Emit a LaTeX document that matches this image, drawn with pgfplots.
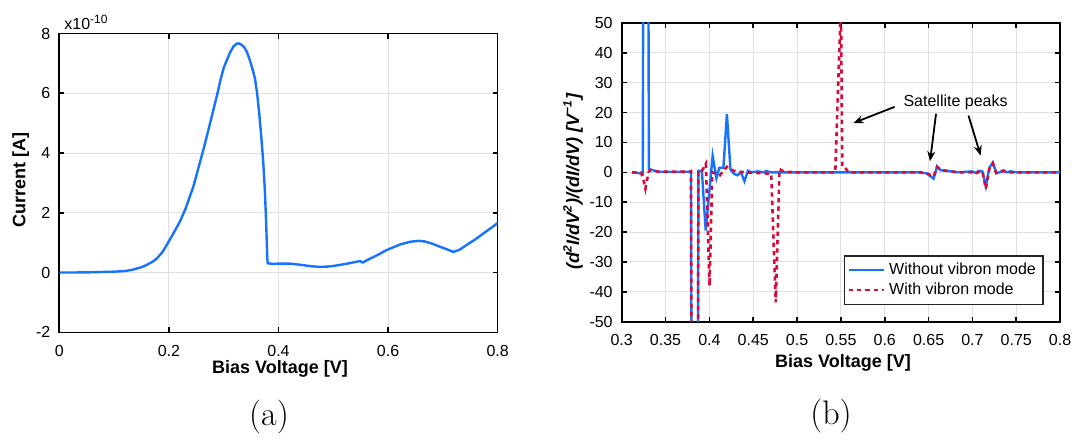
\documentclass[border=0pt]{standalone}
\usepackage{fontspec}
\setsansfont{Liberation Sans}
\usepackage{pgfplots}
\pgfplotsset{compat=1.18}
\usetikzlibrary{arrows.meta}

\definecolor{cblue}{RGB}{22,115,255}
\definecolor{cred}{RGB}{215,10,60}

\pgfplotsset{
  matlab/.style={
    scale only axis,
    width=219.2pt, height=149.4pt,
    axis line style={line width=0.8pt, black},
    every tick/.style={line width=0.8pt, black},
    tick align=inside, tick pos=both,
    major tick length=2.5pt,
    grid=major,
    grid style={black!12, line width=0.5pt},
    tick label style={font=\sffamily\fontsize{8}{9.6}\selectfont},
    /pgf/number format/assume math mode=true,
    x tick label style={yshift=-3pt},
    y tick label style={xshift=-1pt},
  },
  legend image code/.code={
    \draw[#1] (0cm,0cm) -- (0.62cm,0cm);
  },
}

\begin{document}
\begin{tikzpicture}
\path[use as bounding box] (0,0) rectangle (543pt,220.5pt);

% (a) current
\begin{axis}[matlab,
  at={(29.65pt,54.35pt)}, anchor=south west,
  xmin=0, xmax=0.8, ymin=-2, ymax=8,
  xtick={0,0.2,0.4,0.6,0.8},
  ytick={-2,0,2,4,6,8},
]
\addplot[cblue, line width=1.2pt, line join=round] coordinates {
(0,0) (0.05,0.005) (0.1,0.03) (0.12,0.05) (0.135,0.1) (0.15,0.18)
(0.159,0.25) (0.17,0.36) (0.178,0.47) (0.188,0.68) (0.196,0.92)
(0.2,1.05) (0.21,1.37) (0.22,1.70) (0.23,2.12) (0.2445,2.87)
(0.2628,4.10) (0.27,4.62) (0.281,5.43) (0.29,6.1) (0.2932,6.38)
(0.30,6.85) (0.3055,7.1) (0.312,7.38) (0.318,7.57) (0.323,7.65)
(0.327,7.67) (0.332,7.63) (0.337,7.55) (0.342,7.4) (0.347,7.15)
(0.352,6.85) (0.357,6.5) (0.361,6.0) (0.365,5.3) (0.369,4.45)
(0.372,3.75) (0.375,2.8) (0.377,1.9) (0.3785,1.1) (0.3795,0.5)
(0.3803,0.31)
(0.39,0.29) (0.40,0.30) (0.42,0.30) (0.44,0.26) (0.46,0.21)
(0.476,0.19) (0.49,0.2) (0.5,0.22) (0.52,0.28) (0.5487,0.385)
(0.5536,0.33) (0.561,0.41) (0.58,0.58) (0.597,0.75) (0.622,0.94)
(0.64,1.03) (0.656,1.06) (0.667,1.04) (0.68,0.97) (0.695,0.86)
(0.71,0.76) (0.719,0.69) (0.73,0.76) (0.743,0.92) (0.76,1.12)
(0.774,1.31) (0.79,1.52) (0.8,1.66)
};
\end{axis}

% (b) second derivative ratio
\begin{axis}[matlab,
  at={(310.85pt,59.65pt)}, anchor=south west,
  xmin=0.3, xmax=0.8, ymin=-50, ymax=50,
  xtick={0.3,0.35,0.4,0.45,0.5,0.55,0.6,0.65,0.7,0.75,0.8},
  ytick={-50,-40,-30,-20,-10,0,10,20,30,40,50},
  legend style={at={(1,0)}, anchor=south east, xshift=-8.3pt, yshift=8.5pt,
    draw=black!85, line width=0.6pt, inner sep=1.5pt, row sep=-1.5pt,
    font=\sffamily\fontsize{8}{9.6}\selectfont, cells={anchor=west}},
]
\addplot[cblue, line width=1.2pt] coordinates {
(0.312,0) (0.3219,-0.4) (0.3240,-0.6) (0.3250,120) (0.3300,120) (0.3310,1.0)
(0.333,0.9) (0.3417,0.2) (0.36,0.1) (0.3783,0.2) (0.3790,0.3) (0.3800,-120)
(0.3865,-120) (0.3875,0.5) (0.3914,0.5) (0.3958,-19.5) (0.4037,5.5)
(0.408,-2) (0.4113,1.5) (0.416,1.5) (0.420,19.5) (0.424,1.0) (0.428,-0.5)
(0.432,-1.0) (0.436,0) (0.440,-3) (0.444,0.5) (0.448,0) (0.456,0.3)
(0.461,0) (0.465,0.4) (0.47,0) (0.5,0) (0.55,0) (0.6,0) (0.64,0)
(0.6478,-0.4) (0.6557,-2.1) (0.6597,2.0) (0.6637,0.7) (0.6756,0.3)
(0.6836,0) (0.6995,0.3) (0.7034,-0.2) (0.7074,0.5) (0.7114,0.3)
(0.7153,-4.7) (0.7193,1.5) (0.7233,3.3) (0.7272,-0.2) (0.7312,0)
(0.7352,0.7) (0.7392,0) (0.7431,0.3) (0.75,0) (0.8,0)
};
\addlegendentry{Without vibron mode}
\addplot[cred, line width=1.3pt, dash pattern=on 2.2pt off 2pt] coordinates {
(0.312,0) (0.3219,0) (0.3245,-2) (0.327,-5.5) (0.3306,0) (0.333,0.8)
(0.3417,0.2) (0.3783,0.2) (0.3790,0.3) (0.3800,-120) (0.3865,-120)
(0.3875,0.5) (0.3914,0.4) (0.396,2.9) (0.4002,-38) (0.4033,0)
(0.408,-0.5) (0.412,-1) (0.416,0.5) (0.420,1.8) (0.424,1) (0.43,0.3)
(0.44,0) (0.46,-0.3) (0.4705,-0.5) (0.4757,-43.5) (0.4800,1.1)
(0.485,0.2) (0.5,0) (0.5436,0) (0.5500,57) (0.5516,2) (0.5544,1.8)
(0.5584,0) (0.64,0) (0.6478,-0.3) (0.6557,-1.5) (0.6597,1.8)
(0.6637,0.8) (0.6756,0.3) (0.6836,0) (0.6995,0) (0.7034,-0.6)
(0.7074,0.2) (0.7114,0.4) (0.7153,-5.5) (0.7193,1.2) (0.7233,3.0)
(0.7272,-0.3) (0.7312,0) (0.7352,0.4) (0.7431,0) (0.8,0)
};
\addlegendentry{With vibron mode}
\node[font=\sffamily\fontsize{8}{9.6}\selectfont] at (axis cs:0.6808,23.4) {Satellite peaks};
\draw[-{Stealth[length=5pt,width=4pt]}, line width=0.9pt]
  (axis cs:0.6112,21.9) -- (axis cs:0.5643,16.5);
\draw[-{Stealth[length=5pt,width=4pt]}, line width=0.9pt]
  (axis cs:0.6585,19.6) -- (axis cs:0.6517,3.7);
\draw[-{Stealth[length=5pt,width=4pt]}, line width=0.9pt]
  (axis cs:0.6955,19.0) -- (axis cs:0.7094,5.6);
\end{axis}

% labels
\node[rotate=90, font=\sffamily\bfseries\fontsize{9}{10.8}\selectfont] at (10.35pt,130.5pt) {Current [A]};
\node[font=\sffamily\bfseries\fontsize{9}{10.8}\selectfont] at (140pt,36pt) {Bias Voltage [V]};
\node[anchor=base west, inner sep=0pt, font=\sffamily\fontsize{8}{9.6}\selectfont] at (32pt,205.9pt) {x10\textsuperscript{-10}};
\node[rotate=90, font=\sffamily\bfseries\itshape\fontsize{9}{10.8}\selectfont] at (286.5pt,129.65pt)
  {(d\textsuperscript{2}I/dV\textsuperscript{2})/(dI/dV) [V\textsuperscript{−1}]};
\node[font=\sffamily\bfseries\fontsize{9}{10.8}\selectfont] at (421.5pt,39.15pt) {Bias Voltage [V]};
\node[font=\fontsize{17}{20}\selectfont] at (134.5pt,12pt) {(a)};
\node[font=\fontsize{17}{20}\selectfont] at (415.5pt,12.5pt) {(b)};
\end{tikzpicture}
\end{document}
